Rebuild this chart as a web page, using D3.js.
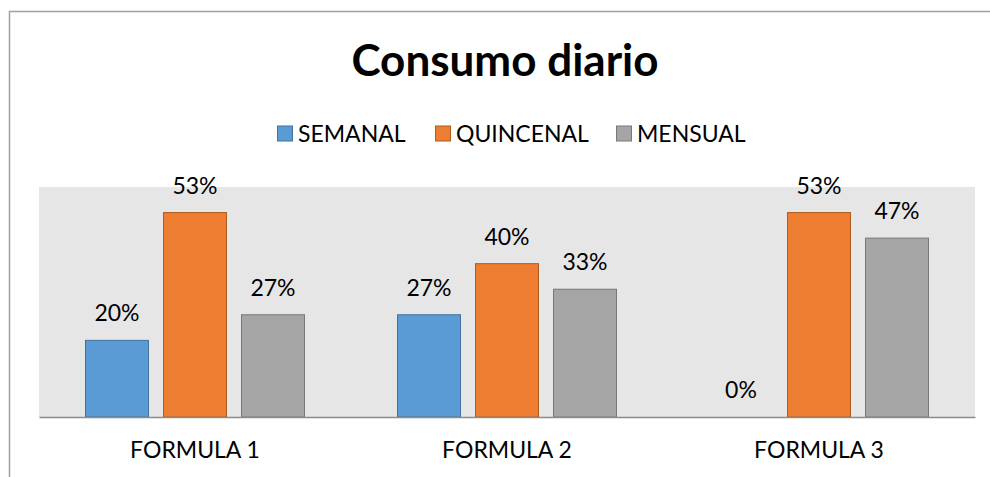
<!DOCTYPE html>
<html>
<head>
<meta charset="utf-8">
<script src="https://cdn.jsdelivr.net/npm/d3@7"></script>
<style>
  body { margin: 0; background: #fff; }
  text { font-family: Lato, "Open Sans", sans-serif; fill: #000; }
</style>
</head>
<body>
<script>
// chart data
const categories = ["FORMULA 1", "FORMULA 2", "FORMULA 3"];
const seriesNames = ["SEMANAL", "QUINCENAL", "MENSUAL"];
const semanal = [0.2, 0.2667, 0];
const quincenal = [0.5333, 0.4, 0.5333];
const mensual = [0.2667, 0.3333, 0.4667];
const colors = ["#5b9bd5", "#ed7d31", "#a5a5a5"];
const strokes = ["#41719c", "#ae5a21", "#787878"];

const W = 990, H = 477;
const svg = d3.select("body").append("svg")
    .attr("width", W)
    .attr("height", H);

// outer frame
svg.append("rect")
    .attr("x", 9.5).attr("y", 11.5)
    .attr("width", 1000).attr("height", 500)
    .attr("fill", "#fff")
    .attr("stroke", "#a0a0a0")
    .attr("stroke-width", 1.5);

const plot = { left: 39, right: 975, top: 187, bottom: 417 };

const x0 = d3.scaleBand()
    .domain(categories)
    .range([plot.left, plot.right]);
const x1 = d3.scaleBand()
    .domain(seriesNames)
    .range([46.5, x0.bandwidth() - 46.5])
    .paddingInner(15 / 78)
    .paddingOuter(0);
const y = d3.scaleLinear()
    .domain([0, 0.6])
    .range([plot.bottom, plot.top]);

svg.append("rect")
    .attr("x", plot.left).attr("y", plot.top)
    .attr("width", plot.right - plot.left)
    .attr("height", plot.bottom - plot.top)
    .attr("fill", "#e7e6e6");

// title
svg.append("text")
    .attr("x", 505).attr("y", 76)
    .attr("text-anchor", "middle")
    .style("font-size", "44px")
    .style("font-weight", "bold")
    .text("Consumo diario");

// legend
const legendX = [277, 435, 616];
const leg = svg.selectAll("g.leg").data(seriesNames).enter()
    .append("g").attr("class", "leg")
    .attr("transform", (d, i) => `translate(${legendX[i]},133.5)`);
leg.append("rect")
    .attr("x", 0.5).attr("y", -7.5)
    .attr("width", 15).attr("height", 15)
    .attr("fill", (d, i) => colors[i])
    .attr("stroke", (d, i) => strokes[i]);
leg.append("text")
    .attr("x", 21).attr("y", 8.5)
    .style("font-size", "23px")
    .text(d => d);

// bars
const series = [semanal, quincenal, mensual];
const rows = [];
categories.forEach((c, ci) => {
    seriesNames.forEach((s, si) => {
        rows.push({ cat: c, name: s, si: si, value: series[si][ci] });
    });
});

const bars = svg.append("g");
bars.selectAll("rect").data(rows.filter(d => d.value > 0)).enter()
    .append("rect")
    .attr("x", d => x0(d.cat) + x1(d.name))
    .attr("y", d => y(d.value))
    .attr("width", x1.bandwidth())
    .attr("height", d => y(0) - y(d.value))
    .attr("fill", d => colors[d.si])
    .attr("stroke", d => strokes[d.si])
    .attr("stroke-width", 1);

bars.selectAll("text").data(rows).enter()
    .append("text")
    .attr("x", d => x0(d.cat) + x1(d.name) + x1.bandwidth() / 2)
    .attr("y", d => y(d.value) - 19)
    .attr("text-anchor", "middle")
    .style("font-size", "23px")
    .text(d => d3.format(".0%")(d.value));

// x axis
const xAxis = svg.append("g")
    .attr("transform", `translate(0,${plot.bottom})`)
    .call(d3.axisBottom(x0).tickSize(0).tickPadding(25));
xAxis.select(".domain").attr("stroke", "#8c8c8c").attr("stroke-width", 1.5);
xAxis.selectAll("text")
    .style("font-size", "23px")
    .style("font-family", "Lato, 'Open Sans', sans-serif")
    .attr("fill", "#000");
</script>
</body>
</html>
